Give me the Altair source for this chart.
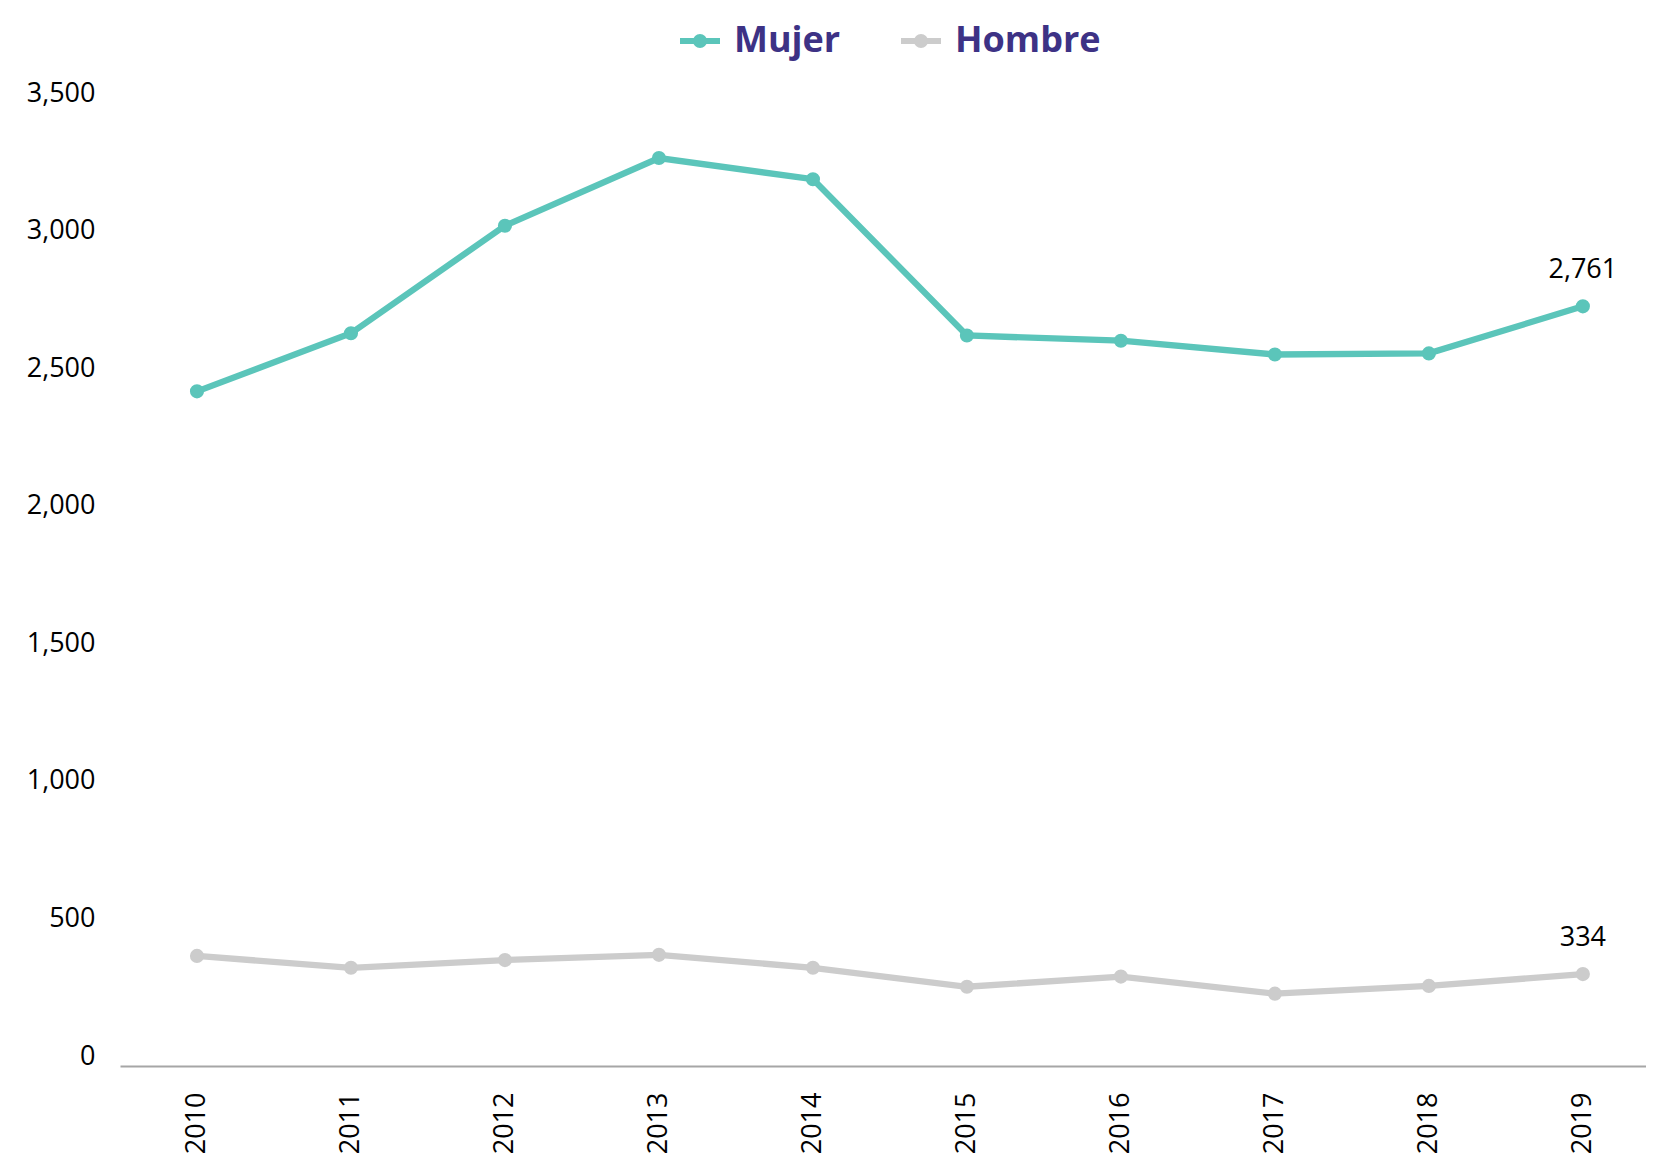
import altair as alt
import pandas as pd

years = [2010, 2011, 2012, 2013, 2014, 2015, 2016, 2017, 2018, 2019]
mujer = [2452, 2663, 3054, 3300, 3223, 2655, 2636, 2586, 2590, 2761]
hombre = [400, 357, 385, 404, 357, 288, 325, 263, 291, 334]
series = ["Mujer", "Hombre"]
colors = ["#5BC5BA", "#CCCCCC"]
y_ticks = [0, 500, 1000, 1500, 2000, 2500, 3000, 3500]

df = pd.DataFrame({
    "year": years * 2,
    "value": mujer + hombre,
    "sexo": ["Mujer"] * len(years) + ["Hombre"] * len(years),
})

FONT = "Open Sans"

legend_path = ("M-1,0L1,0M-0.2,0A0.2,0.2,0,1,1,0.2,0A0.2,0.2,0,1,1,-0.2,0Z")

legend = alt.Legend(
    title=None, orient="none", direction="horizontal",
    legendX=557, legendY=-85,
    symbolType=legend_path, symbolSize=1600, symbolStrokeWidth=6,
    labelFont=FONT, labelFontWeight="bold", labelFontSize=36,
    labelColor="#3D3285", labelOffset=11, columnPadding=48,
)

color = alt.Color("sexo:N", scale=alt.Scale(domain=series, range=colors),
                  sort=series, legend=legend)

x = alt.X("year:Q",
          scale=alt.Scale(domain=[2009.5, 2019.41], nice=False, zero=False),
          axis=alt.Axis(values=years, format="d", labelAngle=270, ticks=False,
                        tickSize=0, grid=False, domainColor="#A6A6A6",
                        domainWidth=2, labelFont=FONT, labelFontSize=27,
                        labelColor="black", labelPadding=26, labelFlush=False,
                        labelOverlap=False, title=None))

y = alt.Y("value:Q",
          scale=alt.Scale(domain=[0, 3500], nice=False),
          axis=alt.Axis(values=y_ticks, format=",d", grid=False, domain=False,
                        ticks=False, tickSize=0, labelFont=FONT,
                        labelFontSize=27, labelColor="black", labelPadding=25,
                        labelOffset=-10, labelFlush=False, title=None))

base = alt.Chart(df)

lines = base.mark_line(strokeWidth=6.3).encode(x=x, y=y, color=color)
points = base.mark_circle(size=200, opacity=1).encode(x=x, y=y, color=color)
labels = base.transform_filter(alt.datum.year == 2019).mark_text(
    dy=-36, font=FONT, fontSize=27, color="black"
).encode(x=x, y=y, text=alt.Text("value:Q", format=",d"))

chart = alt.layer(lines, points, labels).properties(
    width=1526, height=963,
    autosize=alt.AutoSizeParams(type="none"),
    padding={"left": 112, "top": 95, "right": 0, "bottom": 95},
).configure_view(stroke=None)

chart.save("out.html", embed_options={"renderer": "svg", "actions": False})
